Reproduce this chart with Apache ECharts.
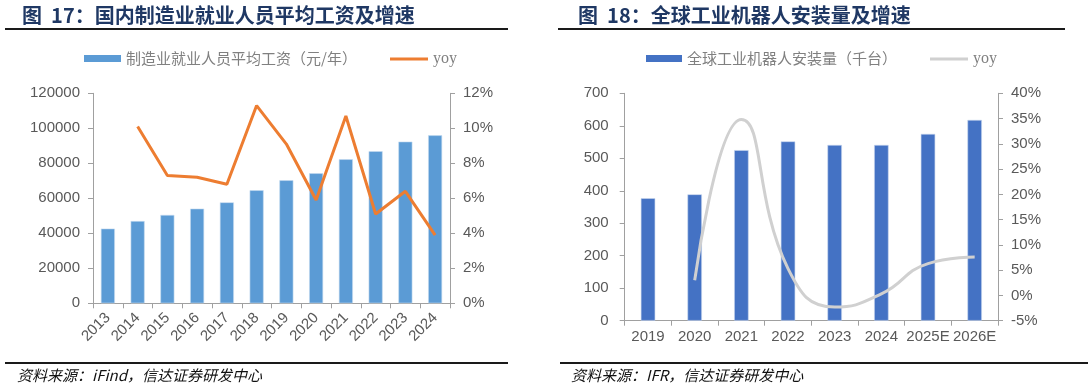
<!DOCTYPE html>
<html>
<head>
<meta charset="utf-8">
<script src="https://cdn.jsdelivr.net/npm/echarts@6/dist/echarts.min.js"></script>
<style>
html,body{margin:0;padding:0;background:#fff;}
#left{position:absolute;left:0;top:0;width:544px;height:391px;}
#right{position:absolute;left:544px;top:0;width:544px;height:391px;}
</style>
</head>
<body>
<div id="left"></div>
<div id="right"></div>
<script>
// ---- Data: chart 17 ----
const wageYears = ['2013','2014','2015','2016','2017','2018','2019','2020','2021','2022','2023','2024'];
const wageValues = [42700, 47000, 50500, 54100, 57700, 64600, 70300, 74300, 82300, 86900, 92400, 96000];
const wageYoy = [null, 10.1, 7.3, 7.2, 6.8, 11.3, 9.1, 5.9, 10.7, 5.1, 6.4, 3.9];
const wageAxis = {min: 0, max: 120000, interval: 20000};
const wageYoyAxis = {min: 0, max: 12, interval: 2};

// ---- Data: chart 18 ----
const robotYears = ['2019','2020','2021','2022','2023','2024','2025E','2026E'];
const robotValues = [377, 389, 525, 552, 541, 541, 575, 618];
const robotYoy = [null, 3.0, 34.8, 5.3, -2.3, 0.3, 6.3, 7.6];
const robotAxis = {min: 0, max: 700, interval: 100};
const robotYoyAxis = {min: -5, max: 40, interval: 5};

const title17 = '图  17：国内制造业就业人员平均工资及增速';
const title18 = '图  18：全球工业机器人安装量及增速';
const source17 = '资料来源：iFind，信达证券研发中心';
const source18 = '资料来源：IFR，信达证券研发中心';
const legendBar17 = '制造业就业人员平均工资（元/年）';
const legendBar18 = '全球工业机器人安装量（千台）';

const AX = '#A0A0A0';
const LBL = '#595959';
const NUMFONT = 'Liberation Sans, Arial, sans-serif';
const CJK = 'Noto Sans CJK SC';

function baseGraphics(lineX1, lineX2, botX1, botX2, srcX, srcText) {
  return [
    {type:'line', shape:{x1:lineX1, y1:29, x2:lineX2, y2:29}, style:{stroke:'#1a1a1a', lineWidth:2}},
    {type:'line', shape:{x1:botX1, y1:363, x2:botX2, y2:363}, style:{stroke:'#1a1a1a', lineWidth:2}},
    {type:'text', x:srcX, y:375, style:{text:srcText, fill:'#111', font:'italic 15px "Noto Sans CJK SC"', textVerticalAlign:'middle'}}
  ];
}

function yAxisCommon(ax, pos, margin, fmt) {
  return {
    type:'value', position:pos, min:ax.min, max:ax.max, interval:ax.interval,
    axisLine:{show:true, lineStyle:{color:AX, width:1}},
    axisTick:{show:true, length:5, lineStyle:{color:AX}},
    splitLine:{show:false},
    axisLabel:{color:LBL, fontSize:15, fontFamily:NUMFONT, margin:margin, formatter:fmt}
  };
}
const plainFmt = v => String(v);
const pctFmt = v => v + '%';

// ---------- Left chart ----------
const c1 = echarts.init(document.getElementById('left'), null, {renderer:'canvas'});
c1.setOption({
  animation:false,
  title:{text:title17, left:17, top:0, textStyle:{fontFamily:CJK, fontSize:20, fontWeight:'bold', color:'#1F3864'}},
  legend:[
    {data:[legendBar17], left:79, top:46, itemWidth:37, itemHeight:7, icon:'rect', itemGap:10,
     itemStyle:{borderWidth:0, borderColor:'transparent'}, textStyle:{fontFamily:CJK, fontSize:15, color:'#808080'}},
    {data:['yoy'], left:385, top:46, itemWidth:38, itemHeight:3, icon:'rect', itemGap:4,
     textStyle:{fontFamily:'Liberation Serif, serif', fontSize:16, color:'#808080'}}
  ],
  grid:{left:93, right:94, top:93.3, bottom:87.7, containLabel:false},
  xAxis:{type:'category', data:wageYears, boundaryGap:true,
    axisLine:{lineStyle:{color:AX}}, axisTick:{show:true, length:5, lineStyle:{color:AX}},
    axisLabel:{rotate:45, color:LBL, fontSize:15, fontFamily:NUMFONT, margin:12, interval:0}},
  yAxis:[
    yAxisCommon(wageAxis, 'left', 13, plainFmt),
    yAxisCommon(wageYoyAxis, 'right', 13, pctFmt)
  ],
  series:[
    {name:legendBar17, type:'bar', data:wageValues, barWidth:'47%', yAxisIndex:0,
     itemStyle:{color:'#5B9BD5', borderColor:'#C6DCF0', borderWidth:0.6}},
    {name:'yoy', type:'line', data:wageYoy, yAxisIndex:1, showSymbol:false, symbol:'none',
     lineStyle:{color:'#ED7D31', width:3}, itemStyle:{color:'#ED7D31'}}
  ],
  graphic: baseGraphics(5, 508, 5, 508, 17, source17)
});

// ---------- Right chart ----------
const c2 = echarts.init(document.getElementById('right'), null, {renderer:'canvas'});
c2.setOption({
  animation:false,
  title:{text:title18, left:29, top:0, textStyle:{fontFamily:CJK, fontSize:20, fontWeight:'bold', color:'#1F3864'}},
  legend:[
    {data:[legendBar18], left:97, top:46, itemWidth:36, itemHeight:7, icon:'rect', itemGap:10,
     itemStyle:{borderWidth:0, borderColor:'transparent'}, textStyle:{fontFamily:CJK, fontSize:15, color:'#808080'}},
    {data:['yoy'], left:381, top:46, itemWidth:38, itemHeight:3, icon:'rect', itemGap:4,
     textStyle:{fontFamily:'Liberation Serif, serif', fontSize:16, color:'#808080'}}
  ],
  grid:{left:80.7, right:90, top:93.3, bottom:70.3, containLabel:false},
  xAxis:{type:'category', data:robotYears, boundaryGap:true,
    axisLine:{lineStyle:{color:AX}}, axisTick:{show:true, length:5, lineStyle:{color:AX}},
    axisLabel:{color:LBL, fontSize:15, fontFamily:NUMFONT, margin:9, interval:0}},
  yAxis:[
    yAxisCommon(robotAxis, 'left', 16, plainFmt),
    yAxisCommon(robotYoyAxis, 'right', 13, pctFmt)
  ],
  series:[
    {name:legendBar18, type:'bar', data:robotValues, barWidth:'31%', yAxisIndex:0,
     itemStyle:{color:'#4472C4', borderColor:'#C9D6EE', borderWidth:0.6}},
    {name:'yoy', type:'line', data:robotYoy, yAxisIndex:1, smooth:0.5, showSymbol:false, symbol:'none',
     lineStyle:{color:'#D0D0D0', width:3}, itemStyle:{color:'#D0D0D0'}}
  ],
  graphic: baseGraphics(14, 521, 16, 544, 27, source18)
});
</script>
</body>
</html>
